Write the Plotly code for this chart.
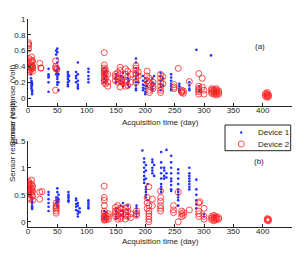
import plotly.graph_objects as go

# ---------------- Data ----------------
# Panel (a): Device 1
d1a_days = ([5]*4 + [6]*6 + [7]*5 + [35]*6 + [48]*4 + [50]*12 + [52]*4 + [68]*7 + [70]*2 +
            [82]*4 + [85]*6 + [103]*5 + [130]*6 + [133]*3 + [150]*4 + [158]*3 + [162]*4 +
            [170]*4 + [172]*2 + [184]*10 + [188]*2 + [196]*5 + [200]*6 + [203]*2 + [212]*5 +
            [215]*2 + [226]*6 + [230]*2 + [244]*7 + [258]*5 + [275]*4 + [287] + [292]*3 +
            [312] + [318]*2)
d1a_vals = [0.42, 0.38, 0.30, 0.25,
            0.22, 0.20, 0.18, 0.16, 0.14, 0.12,
            0.10, 0.08, 0.05, 0.19, 0.17,
            0.37, 0.30, 0.28, 0.26, 0.20, 0.08,
            0.60, 0.55, 0.35, 0.30,
            0.625, 0.58, 0.50, 0.45, 0.40, 0.36, 0.33, 0.30, 0.27, 0.24, 0.20, 0.17,
            0.38, 0.30, 0.20, 0.10,
            0.33, 0.30, 0.27, 0.24, 0.20, 0.17, 0.15,
            0.28, 0.22,
            0.33, 0.28, 0.25, 0.20,
            0.45, 0.30, 0.22, 0.17, 0.14, 0.12,
            0.37, 0.33, 0.28, 0.24, 0.20,
            0.38, 0.33, 0.30, 0.27, 0.24, 0.20,
            0.35, 0.28, 0.22,
            0.30, 0.27, 0.24, 0.20,
            0.28, 0.22, 0.18,
            0.32, 0.26, 0.20, 0.15,
            0.30, 0.25, 0.20, 0.17,
            0.22, 0.14,
            0.50, 0.45, 0.38, 0.33, 0.28, 0.24, 0.20, 0.16, 0.12, 0.10,
            0.30, 0.20,
            0.28, 0.22, 0.17, 0.13, 0.10,
            0.25, 0.20, 0.16, 0.12, 0.08, 0.05,
            0.22, 0.15,
            0.25, 0.20, 0.15, 0.12, 0.10,
            0.28, 0.18,
            0.32, 0.28, 0.22, 0.18, 0.14, 0.10,
            0.25, 0.16,
            0.30, 0.26, 0.22, 0.18, 0.15, 0.12, 0.10,
            0.18, 0.15, 0.12, 0.10, 0.08,
            0.20, 0.16, 0.12, 0.10,
            0.61,
            0.15, 0.10, 0.08,
            0.54,
            0.10, 0.08]

# Panel (a): Device 2
d2a_days = ([1]*4 + [2]*4 + [4]*3 + [6]*6 + [8]*4 + [20] + [22]*2 + [47]*4 + [49]*2 +
            [130]*10 + [132]*4 + [136]*3 + [149]*3 + [153]*3 + [157]*5 + [160]*2 +
            [166]*4 + [170]*3 + [175]*2 + [184]*6 + [188]*2 + [203]*3 + [207]*5 +
            [213]*3 + [226]*6 + [230]*2 + [249]*3 + [256] + [262]*3 + [265]*2 + [275] +
            [291]*6 + [297]*2 + [300]*2 + [313]*4 + [317]*4 + [321]*5 + [325]*3 +
            [405]*3 + [408]*4 + [410]*2)
d2a_vals = [0.70, 0.68, 0.66, 0.62,
            0.50, 0.45, 0.36, 0.33,
            0.40, 0.38, 0.35,
            0.52, 0.48, 0.45, 0.42, 0.40, 0.37,
            0.47, 0.40, 0.38, 0.34,
            0.44,
            0.38, 0.38,
            0.47, 0.40, 0.38, 0.10,
            0.37, 0.36,
            0.575, 0.42, 0.38, 0.35, 0.33, 0.31, 0.28, 0.25, 0.22, 0.20,
            0.36, 0.30, 0.24, 0.18,
            0.30, 0.20, 0.15,
            0.30, 0.27, 0.22,
            0.32, 0.25, 0.20,
            0.39, 0.35, 0.30, 0.22, 0.14,
            0.22, 0.20,
            0.37, 0.30, 0.20, 0.15,
            0.34, 0.27, 0.16,
            0.30, 0.20,
            0.41, 0.38, 0.35, 0.30, 0.25, 0.20,
            0.33, 0.28,
            0.34, 0.28, 0.22,
            0.25, 0.20, 0.15, 0.10, 0.07,
            0.20, 0.15, 0.12,
            0.30, 0.25, 0.20, 0.15, 0.10, 0.07,
            0.27, 0.18,
            0.17, 0.14, 0.12,
            0.375,
            0.10, 0.08, 0.07,
            0.09, 0.06,
            0.21,
            0.31, 0.15, 0.12, 0.10, 0.08, 0.05,
            0.25, 0.14,
            0.10, 0.05,
            0.12, 0.10, 0.08, 0.06,
            0.11, 0.09, 0.07, 0.05,
            0.12, 0.10, 0.08, 0.06, 0.04,
            0.09, 0.07, 0.05,
            0.06, 0.04, 0.02,
            0.07, 0.05, 0.03, 0.01,
            0.04, 0.02]

# Panel (b): Device 1
d1b_days = ([5]*5 + [7]*6 + [35]*6 + [48]*3 + [50]*8 + [52]*3 + [69]*6 + [82]*5 + [85]*5 +
            [88]*2 + [103]*5 + [130]*4 + [133]*2 + [150]*5 + [158]*3 + [162]*5 + [170]*4 +
            [185]*5 + [195] + [198]*7 + [201]*8 + [204]*2 + [212]*5 + [215]*2 + [227]*9 +
            [232]*4 + [236]*3 + [244]*9 + [256]*10 + [275]*8 + [287]*6 + [300]*2 + [318]*2)
d1b_vals = [0.63, 0.58, 0.55, 0.50, 0.45,
            0.42, 0.38, 0.35, 0.30, 0.27, 0.24,
            0.55, 0.50, 0.42, 0.35, 0.28, 0.20,
            0.45, 0.40, 0.35,
            0.62, 0.55, 0.45, 0.40, 0.38, 0.35, 0.30, 0.28,
            0.50, 0.42, 0.38,
            0.55, 0.50, 0.47, 0.44, 0.40, 0.37,
            0.43, 0.40, 0.33, 0.28, 0.22,
            0.35, 0.30, 0.20, 0.15, 0.10,
            0.25, 0.18,
            0.40, 0.36, 0.32, 0.28, 0.25,
            0.20, 0.15, 0.10, 0.06,
            0.18, 0.12,
            0.25, 0.20, 0.15, 0.10, 0.06,
            0.30, 0.20, 0.12,
            0.35, 0.28, 0.20, 0.15, 0.10,
            0.30, 0.22, 0.15, 0.08,
            0.30, 0.25, 0.20, 0.15, 0.10,
            1.32,
            1.17, 1.10, 1.00, 0.92, 0.85, 0.78, 0.72,
            1.05, 0.95, 0.80, 0.65, 0.60, 0.55, 0.50, 0.45,
            0.70, 0.40,
            1.15, 1.10, 1.00, 0.95, 0.90,
            1.05, 0.85,
            1.29, 1.10, 1.00, 0.90, 0.80, 0.70, 0.65, 0.60, 0.55,
            1.00, 0.95, 0.85, 0.80,
            1.33, 0.90, 0.82,
            1.22, 1.10, 1.00, 0.90, 0.80, 0.75, 0.68, 0.60, 0.57,
            0.97, 0.90, 0.80, 0.70, 0.60, 0.55, 0.50, 0.45, 0.40, 0.30,
            1.00, 0.90, 0.85, 0.80, 0.75, 0.70, 0.65, 0.60,
            0.78, 0.60, 0.50, 0.40, 0.32, 0.25,
            0.15, 0.10,
            0.12, 0.08]

# Panel (b): Device 2
d2b_days = ([1]*7 + [3]*4 + [6]*6 + [8]*4 + [20]*2 + [24] + [48]*6 + [130]*10 + [133]*3 +
            [137]*3 + [149]*4 + [153]*4 + [158]*4 + [166]*4 + [170]*3 + [175]*2 + [185]*3 +
            [203]*3 + [206]*7 + [212]*2 + [226]*6 + [248]*3 + [256]*2 + [262]*3 + [265]*2 +
            [275] + [291]*4 + [293] + [300]*3 + [313]*3 + [317]*4 + [321]*3 + [325]*2 +
            [408]*3 + [410]*2)
d2b_vals = [0.75, 0.72, 0.70, 0.65, 0.60, 0.55, 0.50,
            0.68, 0.58, 0.45, 0.42,
            0.77, 0.70, 0.63, 0.60, 0.55, 0.50,
            0.66, 0.57, 0.48, 0.40,
            0.55, 0.42,
            0.56,
            0.35, 0.30, 0.27, 0.24, 0.20, 0.16,
            0.66, 0.45, 0.40, 0.30, 0.20, 0.15, 0.10, 0.08, 0.05, 0.03,
            0.12, 0.07, 0.04,
            0.15, 0.10, 0.05,
            0.27, 0.20, 0.15, 0.10,
            0.30, 0.22, 0.12, 0.05,
            0.25, 0.18, 0.10, 0.06,
            0.25, 0.18, 0.12, 0.05,
            0.28, 0.20, 0.10,
            0.15, 0.08,
            0.20, 0.15, 0.12,
            0.45, 0.35, 0.25,
            0.65, 0.30, 0.20, 0.15, 0.10, 0.05, 0.00,
            0.42, 0.30,
            0.57, 0.45, 0.38, 0.30, 0.25, 0.20,
            0.30, 0.22, 0.17,
            0.55, 0.00,
            0.20, 0.15, 0.10,
            0.17, 0.12,
            0.22,
            0.35, 0.20, 0.15, 0.10,
            0.37,
            0.25, 0.10, 0.05,
            0.10, 0.07, 0.04,
            0.12, 0.08, 0.05, 0.02,
            0.10, 0.07, 0.04,
            0.08, 0.05,
            0.06, 0.04, 0.03,
            0.05, 0.02]

series_names = ["Device 1", "Device 2"]
x_ticks = [0, 50, 100, 150, 200, 250, 300, 350, 400, 450]
ya_ticks = [0, 0.2, 0.4, 0.6, 0.8, 1]
ya_labels = ["0", "0.2", "0.4", "0.6", "0.8", "1"]
yb_ticks = [0, 0.5, 1, 1.5]
yb_labels = ["0", "0.5", "1", "1.5"]

# ---------------- Figure ----------------
W, H = 299, 256
FONT = "Liberation Sans, Arial, sans-serif"
AX = "#262626"
BLUE = "#1f2fff"
RED = "#ff2020"

fig = go.Figure()

blue_marker = dict(symbol="circle", size=2.6, color=BLUE, line=dict(width=0))
red_marker = dict(symbol="circle-open", size=6, color=RED, line=dict(width=0.8, color=RED))

fig.add_trace(go.Scatter(x=d1a_days, y=d1a_vals, mode="markers", marker=blue_marker,
                         xaxis="x", yaxis="y", showlegend=False, name=series_names[0]))
fig.add_trace(go.Scatter(x=d2a_days, y=d2a_vals, mode="markers", marker=red_marker,
                         xaxis="x", yaxis="y", showlegend=False, name=series_names[1]))
fig.add_trace(go.Scatter(x=d1b_days, y=d1b_vals, mode="markers", marker=blue_marker,
                         xaxis="x2", yaxis="y2", showlegend=False, name=series_names[0]))
fig.add_trace(go.Scatter(x=d2b_days, y=d2b_vals, mode="markers", marker=red_marker,
                         xaxis="x2", yaxis="y2", showlegend=False, name=series_names[1]))

def px_x(p):
    return p / W

def px_y(p):
    return (H - p) / H

xdom = [px_x(28), px_x(292)]
common_x = dict(range=[0, 450], tickvals=x_ticks, ticktext=[str(v) for v in x_ticks],
                showline=True, linecolor=AX, linewidth=1, ticks="inside", ticklen=3,
                tickcolor=AX, showgrid=False, zeroline=False, ticklabelstandoff=-4,
                tickfont=dict(family=FONT, size=8, color=AX), fixedrange=True)
common_y = dict(showline=True, linecolor=AX, linewidth=1, ticks="inside", ticklen=3,
                tickcolor=AX, showgrid=False, zeroline=False,
                tickfont=dict(family=FONT, size=8, color=AX), fixedrange=True)

fig.update_layout(
    width=W, height=H,
    margin=dict(l=0, r=0, t=0, b=0, pad=0, autoexpand=False),
    paper_bgcolor="white", plot_bgcolor="white",
    xaxis=dict(domain=xdom, anchor="y", **common_x),
    yaxis=dict(domain=[px_y(106), px_y(19)], anchor="x", range=[-0.1, 1],
               tickvals=ya_ticks, ticktext=ya_labels, **common_y),
    xaxis2=dict(domain=xdom, anchor="y2", **common_x),
    yaxis2=dict(domain=[px_y(227.3), px_y(140.7)], anchor="x2", range=[-0.1, 1.5],
                tickvals=yb_ticks, ticktext=yb_labels, **common_y),
    showlegend=False,
)

# Compact legend box (MATLAB style) drawn in paper coordinates
LX0, LX1, LY0, LY1 = 225, 290.7, 125, 150.7
shapes = [
    dict(type="rect", xref="paper", yref="paper",
         x0=px_x(LX0), x1=px_x(LX1), y0=px_y(LY1), y1=px_y(LY0),
         line=dict(color=AX, width=1), fillcolor="white", layer="above"),
    dict(type="circle", xref="paper", yref="paper",
         x0=px_x(240), x1=px_x(242.4), y0=px_y(133.7), y1=px_y(131.3),
         line=dict(width=0), fillcolor=BLUE, layer="above"),
    dict(type="circle", xref="paper", yref="paper",
         x0=px_x(238.3), x1=px_x(244.3), y0=px_y(147), y1=px_y(141),
         line=dict(color=RED, width=0.8), fillcolor="rgba(0,0,0,0)", layer="above"),
]

ann_font = dict(family=FONT, size=8, color=AX)
annotations = [
    dict(text="Sensor response (Volt)", x=px_x(5.5), y=px_y(62), textangle=-90,
         xref="paper", yref="paper", showarrow=False, font=ann_font),
    dict(text="Sensor response (Volt)", x=px_x(5.5), y=px_y(184), textangle=-90,
         xref="paper", yref="paper", showarrow=False, font=ann_font),
    dict(text="Acquisition time (day)", x=px_x(160), y=px_y(122.5),
         xref="paper", yref="paper", showarrow=False, font=ann_font),
    dict(text="Acquisition time (day)", x=px_x(160), y=px_y(246.5),
         xref="paper", yref="paper", showarrow=False, font=ann_font, borderpad=0),
    dict(text="(a)", x=px_x(267), y=px_y(39.5),
         xref="paper", yref="paper", showarrow=False, font=ann_font),
    dict(text="(b)", x=px_x(266), y=px_y(161.5),
         xref="paper", yref="paper", showarrow=False, font=ann_font),
    dict(text=series_names[0], x=px_x(256), y=px_y(132.5), xanchor="left",
         xref="paper", yref="paper", showarrow=False, font=ann_font),
    dict(text=series_names[1], x=px_x(256), y=px_y(144), xanchor="left",
         xref="paper", yref="paper", showarrow=False, font=ann_font),
]
fig.update_layout(annotations=annotations, shapes=shapes)

fig.write_html("out.html", config={"displayModeBar": False},
               post_script="document.body.style.margin='0px';document.body.style.overflow='hidden';")
